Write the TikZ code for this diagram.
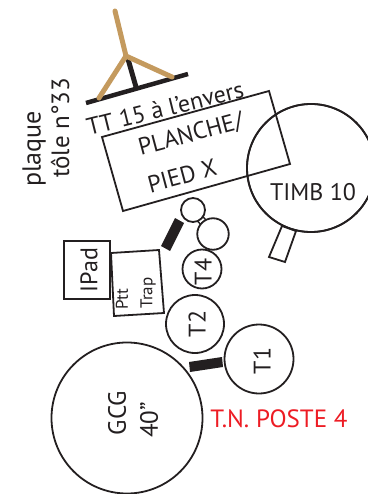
\documentclass[tikz,border=0pt]{standalone}
\usepackage{fontspec}
\setmainfont{PT Sans}
\definecolor{ink}{HTML}{231F20}
\definecolor{wood}{HTML}{C49A5E}
\definecolor{redlabel}{HTML}{ED1C24}
\newcommand{\fs}[1]{\fontsize{#1}{#1}\selectfont}
\tikzset{
  outline/.style={draw=ink,line width=1.8pt,fill=white},
  lbl/.style={inner sep=0pt,text=ink,align=center},
  roundthing/.style={circle,draw=ink,line width=1.8pt,inner sep=0pt,minimum size=#1},
}
\begin{document}
\begin{tikzpicture}[x=1pt,y=-1pt]
\useasboundingbox (0,0) rectangle (367,494);
% stand
\draw[ink,line width=4.5pt] (86,103) -- (188,74);
\draw[ink,line width=5pt] (128,59) -- (136,87);
\draw[wood,line width=5pt,line cap=round,line join=round] (115,11) -- (126,56) -- (99,98);
\draw[wood,line width=5pt,line cap=round,line join=round] (126,56) -- (172,77);
% plank and timb
\draw[draw=ink,line width=1.8pt] (102,137) -- (269,91) -- (290,164) -- (123,211) -- cycle;
\node[roundthing=128pt] (timb) at (311,168) {};
\draw[outline] (282,226) -- (296,231) -- (285,262) -- (269,257) -- cycle;
\node[roundthing=128pt,fill=none] at (311,168) {};
% small circles
\draw[draw=ink,line width=1.4pt] (196.5,219.8) -- (201.9,215.4) -- (207.1,221.4) -- (201.7,225.8) -- cycle;
\node[roundthing=24pt,fill=white] (s1) at (193,210) {};
\node[roundthing=31.5pt,fill=white] (s2) at (213,234) {};
\fill[ink] (175,218) -- (184,223) -- (170,251) -- (161,246) -- cycle;
% ipad, trap
\draw[draw=ink,line width=1.8pt] (64,241) rectangle (110,299);
\draw[draw=ink,line width=1.8pt] (111,253) -- (159,250) -- (164,313) -- (114,316) -- cycle;
\node[roundthing=39pt] (t4) at (202,269) {};
\node[roundthing=58pt] (t2) at (195,324) {};
\node[roundthing=69pt] (t1) at (259,359) {};
\node[roundthing=151pt] (gcg) at (127,418) {};
\fill[ink] (189,362) -- (222,357) -- (223,367) -- (190,372) -- cycle;
% labels
\node[lbl,rotate=90,font=\fs{26}] (lplaque) at (34,149) {plaque};
\node[lbl,rotate=90,font=\fs{25}] (ltole) at (60,128) {tôle n°33};
\node[lbl,rotate=14,font=\fs{24}] (ltt) at (165,108) {TT 15 à l’envers};
\node[lbl,rotate=15,font=\fs{24}] (lpl) at (191,135) {PLANCHE/};
\node[lbl,rotate=15,font=\fs{24}] (lpx) at (182,176) {PIED X};
\node[lbl,font=\fs{24}] (ltimb) at (313,192) {TIMB 10};
\node[lbl,rotate=90,font=\fs{24}] (lipad) at (89,270) {IPad};
\node[lbl,rotate=90,font=\fs{17}] (lptt) at (122,299) {Ptt};
\node[lbl,rotate=90,font=\fs{17}] (ltrap) at (148,293) {Trap};
\node[lbl,rotate=90,font=\fs{24}] (lt4) at (203,272) {T4};
\node[lbl,rotate=90,font=\fs{24}] (lt2) at (197,324) {T2};
\node[lbl,rotate=90,font=\fs{24}] (lt1) at (262,361) {T1};
\node[lbl,rotate=90,font=\fs{25}] (lg) at (117,413) {GCG};
\node[lbl,rotate=90,font=\fs{25}] (l40) at (149,420) {40”};
\node[lbl,text=redlabel,font=\fs{25}] (ltn) at (279,419) {T.N. POSTE 4};
\end{tikzpicture}
\end{document}
